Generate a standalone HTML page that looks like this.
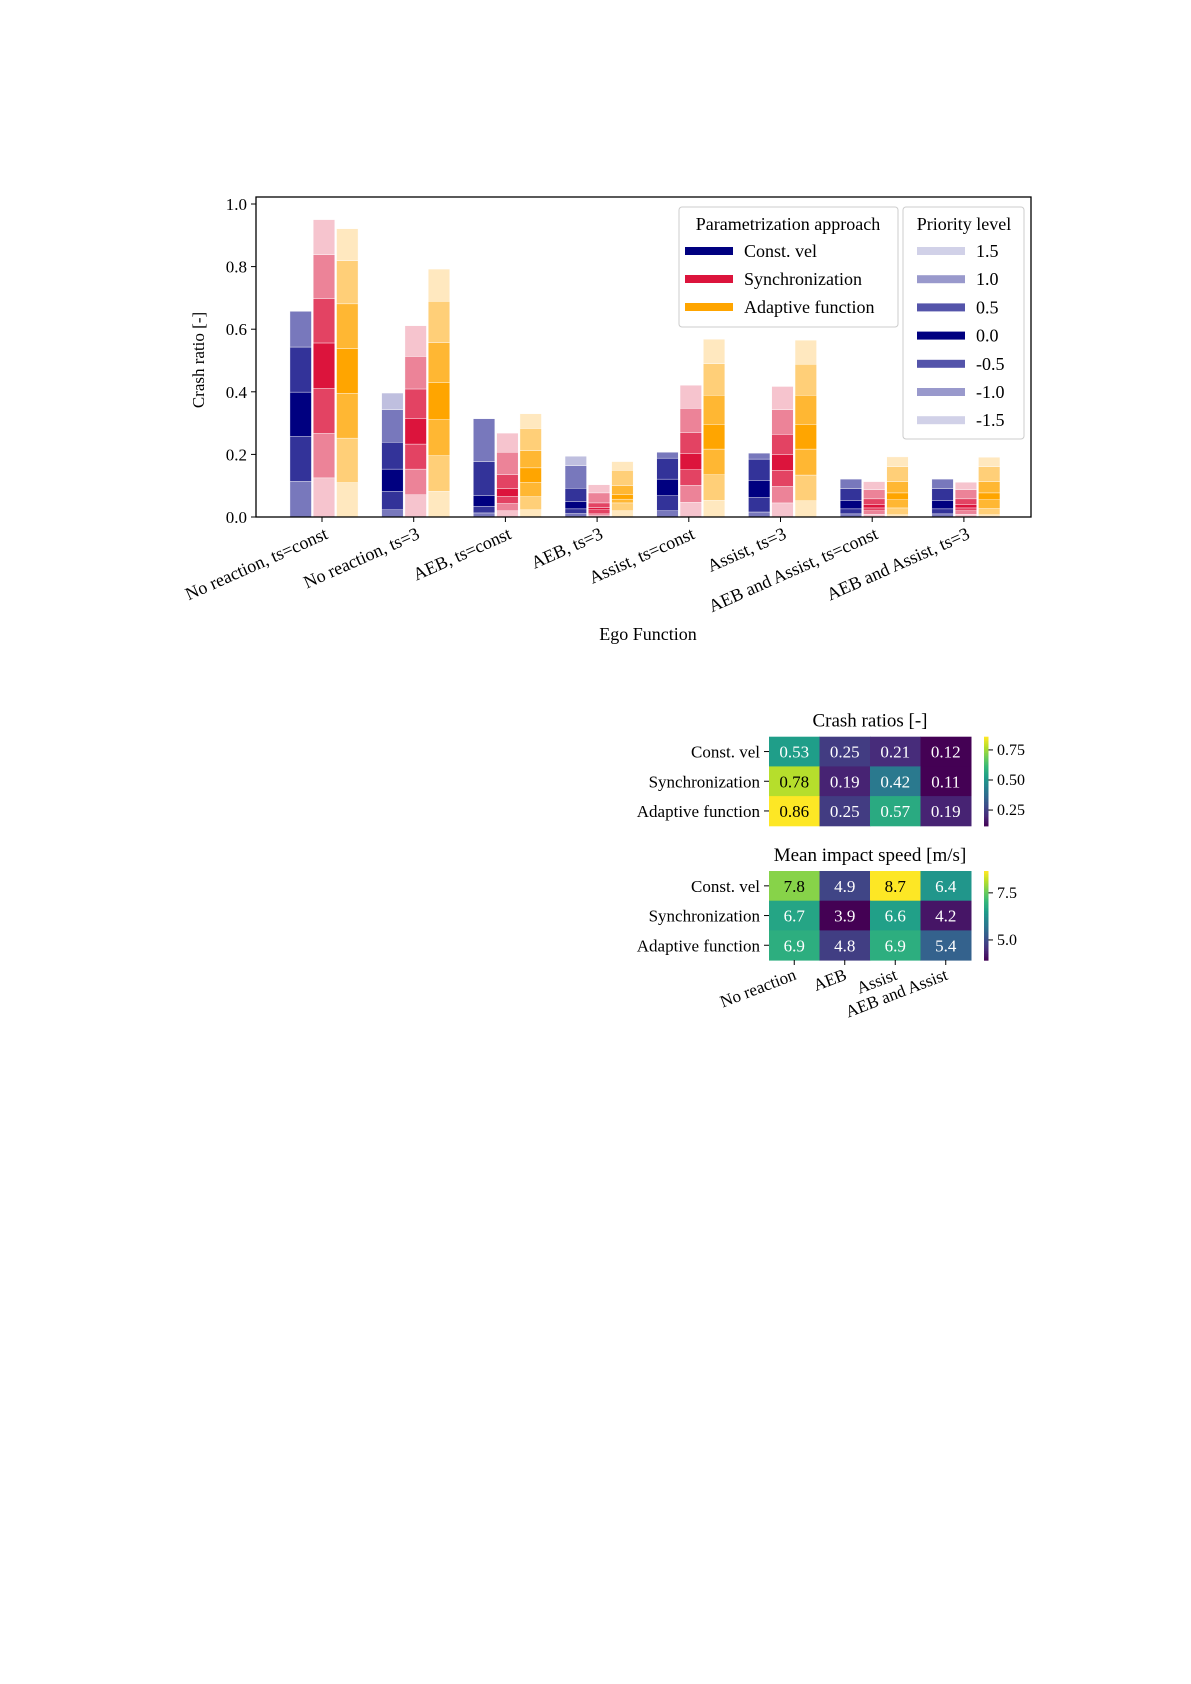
<!DOCTYPE html>
<html><head><meta charset="utf-8"><style>
html,body{margin:0;padding:0;background:#fff;}
svg{display:block;font-family:"Liberation Serif",serif;}
</style></head><body>
<svg id="svg" width="1191" height="1684" viewBox="0 0 1191 1684" xmlns="http://www.w3.org/2000/svg">
<g id="bars"></g>
<g id="heat"></g>
</svg>
<script>
const groups = ["No reaction, ts=const","No reaction, ts=3","AEB, ts=const","AEB, ts=3","Assist, ts=const","Assist, ts=3","AEB and Assist, ts=const","AEB and Assist, ts=3"];
const levels = [-1.5,-1.0,-0.5,0.0,0.5,1.0,1.5];
const yTicks = [0,0.2,0.4,0.6,0.8,1.0];
// cumulative crash ratio stacked by priority level (-1.5 .. 1.5)
const constVelCum = [
[0,.114,.257,.399,.543,.657,.657],[0,.023,.082,.153,.239,.343,.396],[0,.013,.034,.068,.177,.314,.314],[0,.011,.026,.049,.092,.164,.194],
[0,.020,.068,.121,.188,.207,.207],[0,.016,.063,.117,.185,.204,.204],[0,.010,.026,.052,.091,.121,.121],[0,.010,.026,.052,.091,.121,.121]];
const syncCum = [
[.125,.267,.411,.556,.698,.838,.950],[.071,.153,.233,.314,.409,.513,.611],[.020,.043,.066,.091,.135,.207,.268],[.004,.010,.023,.030,.045,.077,.103],
[.047,.101,.151,.202,.269,.347,.421],[.045,.098,.149,.199,.264,.343,.417],[.009,.020,.029,.039,.058,.087,.113],[.009,.020,.029,.039,.058,.087,.111]];
const adaptCum = [
[.110,.252,.395,.538,.681,.819,.921],[.082,.196,.311,.429,.557,.689,.792],[.023,.065,.110,.157,.212,.283,.330],[.020,.045,.057,.071,.100,.149,.177],
[.053,.135,.217,.296,.389,.490,.568],[.052,.134,.217,.296,.389,.488,.565],[.007,.029,.055,.077,.113,.161,.192],[.007,.027,.055,.077,.113,.161,.191]];
const seriesNames = ["Const. vel","Synchronization","Adaptive function"];
const heatRows = ["Const. vel","Synchronization","Adaptive function"];
const heatCols = ["No reaction","AEB","Assist","AEB and Assist"];
const crashRatios = [[0.53,0.25,0.21,0.12],[0.78,0.19,0.42,0.11],[0.86,0.25,0.57,0.19]];
const impactSpeed = [[7.8,4.9,8.7,6.4],[6.7,3.9,6.6,4.2],[6.9,4.8,6.9,5.4]];
const crashTicks = [0.25,0.50,0.75];
const speedTicks = [5.0,7.5];

const NS="http://www.w3.org/2000/svg";
function mk(p,tag,attrs,txt){const e=document.createElementNS(NS,tag);for(const k in attrs)e.setAttribute(k,attrs[k]);if(txt!==undefined)e.textContent=txt;p.appendChild(e);return e;}
const B=document.getElementById('bars');
const X0=256,X1=1031,Y0=517,YT=197,Y1=204;
const y=v=>Y0-(Y0-Y1)*v;
const gx=i=>322+i*91.7;
const baseCols=["0,0,128","220,20,60","255,165,0"];
const alphaFor=l=>({0:1,0.5:0.8,1:0.53,1.5:0.25})[Math.abs(l)];
const allCum=[constVelCum,syncCum,adaptCum];
const bw=21.5;
allCum.forEach((ser,s)=>{
  ser.forEach((cum,g)=>{
    let prev=0;
    cum.forEach((c,li)=>{
      if(c>prev){
        const r=mk(B,'rect',{x:gx(g)+(s-1)*23.3-bw/2+2,y:y(c),width:bw,height:y(prev)-y(c),fill:`rgba(${baseCols[s]},${alphaFor(levels[li])})`,stroke:'#fff','stroke-width':0.4});
        
        
      }
      prev=c;
    });
  });
});
let f=mk(B,'rect',{x:X0,y:YT,width:X1-X0,height:Y0-YT,fill:'none',stroke:'#000','stroke-width':1.3});

yTicks.forEach(t=>{
  mk(B,'line',{x1:X0-5,x2:X0,y1:y(t),y2:y(t),stroke:'#000'});
  const tl=mk(B,'text',{x:X0-9,y:y(t)+6,'text-anchor':'end','font-size':17},t.toFixed(1));
  
});
groups.forEach((g,i)=>{
  mk(B,'line',{x1:gx(i),x2:gx(i),y1:Y0,y2:Y0+5,stroke:'#000'});
  const t=mk(B,'text',{x:0,y:0,'text-anchor':'end','font-size':18,transform:`translate(${gx(i)+7},${Y0+21}) rotate(-24)`},g);
  
});
let yl=mk(B,'text',{x:0,y:0,'text-anchor':'middle','font-size':17,transform:'translate(204,360) rotate(-90)'},'Crash ratio [-]');

let xl=mk(B,'text',{x:648,y:640,'text-anchor':'middle','font-size':18},'Ego Function');

let lg1=mk(B,'g',{});

mk(lg1,'rect',{x:679,y:207,width:219,height:120,rx:3,fill:'#fff','fill-opacity':0.85,stroke:'#ccc'});
mk(lg1,'text',{x:788,y:230,'text-anchor':'middle','font-size':18},'Parametrization approach');
seriesNames.forEach((n,i)=>{
  const e=mk(lg1,'g',{});
  
  mk(e,'rect',{x:685,y:247+i*28,width:48,height:8,fill:`rgb(${baseCols[i]})`});
  mk(e,'text',{x:744,y:257+i*28,'font-size':18},n);
});
let lg2=mk(B,'g',{});

mk(lg2,'rect',{x:903,y:207,width:121,height:232,rx:3,fill:'#fff','fill-opacity':0.85,stroke:'#ccc'});
mk(lg2,'text',{x:964,y:230,'text-anchor':'middle','font-size':18},'Priority level');
const legA={0:1,0.5:0.67,1:0.4,1.5:0.18};
levels.slice().reverse().forEach((l,i)=>{
  const e=mk(lg2,'g',{});
  
  mk(e,'rect',{x:917,y:247+i*28.2,width:48,height:8,fill:`rgba(0,0,128,${legA[Math.abs(l)]})`});
  mk(e,'text',{x:976,y:257+i*28.2,'font-size':18},l.toFixed(1));
});

const vs=[[68,1,84],[72,40,120],[62,74,137],[49,104,142],[38,130,142],[31,158,137],[53,183,121],[109,205,89],[180,222,44],[253,231,37]];
function viridis(t){t=Math.max(0,Math.min(1,t));const p=t*(vs.length-1),i=Math.min(Math.floor(p),vs.length-2),f=p-i;return vs[i].map((v,k)=>Math.round(v+(vs[i+1][k]-v)*f));}
const H=document.getElementById('heat');
const HX0=769,cw=50.5,rh=29.7;
const f2=v=>v.toFixed(2),f1=v=>v.toFixed(1);
function heatmap(data,top,vmin,vmax,ticks,title,fmt,name){
  const g=mk(H,'g',{});
  
  const tt=mk(g,'text',{x:870,y:top-10,'text-anchor':'middle','font-size':19},title);
  
  data.forEach((row,r)=>{
    const rl=mk(g,'text',{x:HX0-9,y:top+r*rh+rh/2+6,'text-anchor':'end','font-size':17},heatRows[r]);
    
    mk(g,'line',{x1:HX0-5,x2:HX0,y1:top+r*rh+rh/2,y2:top+r*rh+rh/2,stroke:'#000'});
    row.forEach((v,c)=>{
      const col=viridis((v-vmin)/(vmax-vmin));
      const cell=mk(g,'rect',{x:HX0+c*cw,y:top+r*rh,width:cw+0.5,height:rh+0.5,fill:`rgb(${col})`});
      
      const lum=0.299*col[0]+0.587*col[1]+0.114*col[2];
      mk(g,'text',{x:HX0+c*cw+cw/2,y:top+r*rh+rh/2+6,'text-anchor':'middle','font-size':17,fill:lum>150?'#000':'#fff'},fmt(v));
    });
  });
  const cbx=984,cbh=rh*3,cbTop=top;
  for(let k=0;k<60;k++){
    mk(g,'rect',{x:cbx,y:cbTop+cbh*k/60,width:4.5,height:cbh/60+0.6,fill:`rgb(${viridis(1-k/60)})`});
  }
  ticks.forEach(t=>{
    const yy=cbTop+cbh*(1-(t-vmin)/(vmax-vmin));
    mk(g,'line',{x1:cbx+4.5,x2:cbx+9,y1:yy,y2:yy,stroke:'#000'});
    const l=mk(g,'text',{x:cbx+13,y:yy+5,'font-size':16},fmt(t));
    
  });
}
heatmap(crashRatios,736.7,0.119,0.86,crashTicks,'Crash ratios [-]',f2,'crash-ratio-heatmap');
heatmap(impactSpeed,871,3.93,8.66,speedTicks,'Mean impact speed [m/s]',f1,'impact-speed-heatmap');
heatCols.forEach((c,i)=>{
  const cx=HX0+i*cw+cw/2;
  mk(H,'line',{x1:cx,x2:cx,y1:960,y2:965,stroke:'#000'});
  const t=mk(H,'text',{x:0,y:0,'text-anchor':'end','font-size':17,transform:`translate(${cx+3},${979}) rotate(-21)`},c);
  
});
</script>
</body></html>
